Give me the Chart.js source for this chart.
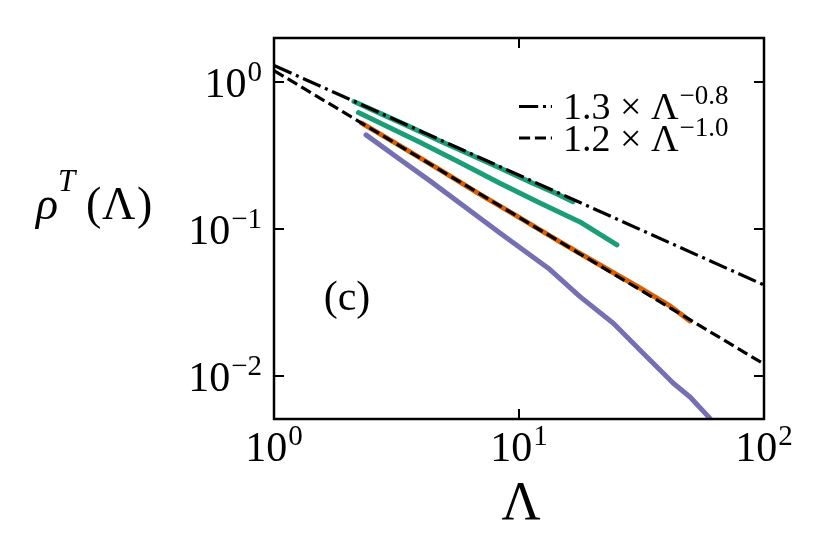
<!DOCTYPE html>
<html><head><meta charset="utf-8">
<script src="https://cdn.jsdelivr.net/npm/chart.js@4/dist/chart.umd.min.js"></script>
<style>html,body{margin:0;padding:0;background:#fff}#wrap{width:830px;height:559px}</style>
</head><body><div id="wrap"><canvas id="c" width="830" height="559"></canvas></div>
<script>
// ---- data ----
const xTickValues = [1, 10, 100];
const xTickExponents = ['0', '1', '2'];
const yTickValues = [0.01, 0.1, 1];
const yTickExponents = ['\u22122', '\u22121', '0'];
const xRange = [1, 100];
const yRange = [0.00507, 2.0];

const fitDashDotX = [1, 100];
const fitDashDotY = [1.3, 0.0415];
const fitDashedX = [1, 100];
const fitDashedY = [1.2, 0.012];

const greenAX = [2.12, 2.71, 3.59, 4.76, 6.31, 8.36, 11.09, 14.03, 16.61];
const greenAY = [0.738, 0.613, 0.496, 0.398, 0.322, 0.260, 0.209, 0.176, 0.1535];
const greenBX = [2.21, 2.71, 3.94, 5.74, 8.36, 12.18, 17.74, 25.1];
const greenBY = [0.621, 0.528, 0.389, 0.284, 0.205, 0.1504, 0.1116, 0.0778];
const orangeX = [2.28, 3.27, 4.76, 6.93, 10.09, 14.70, 21.41, 31.18, 41.33, 49.9];
const orangeY = [0.5255, 0.368, 0.2525, 0.1718, 0.1189, 0.0815, 0.0568, 0.0396, 0.0299, 0.0236];
const purpleX = [2.375, 3.27, 4.33, 6.12, 8.36, 13.17, 17.74, 24.26, 33.2, 42.65, 49.9, 60.2];
const purpleY = [0.4373, 0.2977, 0.2125, 0.1384, 0.0939, 0.054, 0.0346, 0.0228, 0.01348, 0.00888, 0.00716, 0.00512];

const legendLabels = ['1.3 \u00d7 \u039b', '1.2 \u00d7 \u039b'];
const legendExponents = ['\u22120.8', '\u22121.0'];
const panelLabel = '(c)';
const xTitle = '\u039b';

// ---- styles ----
const GREEN = '#1b9e77', ORANGE = '#d95f02', PURPLE = '#7570b3';
const SERIF = '"Liberation Serif", "DejaVu Serif", serif';
const DASHDOT = [19.2, 4.8, 3, 4.8];
const DASHED = [11.1, 4.8];

const zip = (xs, ys) => xs.map((x, i) => ({x, y: ys[i]}));
const curve = (xs, ys, color) => ({
  data: zip(xs, ys), borderColor: color, borderWidth: 5, showLine: true,
  pointRadius: 0, borderCapStyle: 'round', borderJoinStyle: 'round', tension: 0, fill: false
});
const fit = (xs, ys, dash) => ({
  data: zip(xs, ys), borderColor: '#000', borderWidth: 3.2, showLine: true,
  pointRadius: 0, borderDash: dash, borderCapStyle: 'butt', tension: 0, fill: false
});

function drawSup(ctx, base, exp, x, y, baseFont, expFont, raise, align) {
  ctx.font = baseFont; const wb = ctx.measureText(base).width;
  ctx.font = expFont; const we = ctx.measureText(exp).width;
  const total = wb + we + 1;
  let left = x;
  if (align === 'center') left = x - total / 2;
  else if (align === 'right') left = x - total;
  ctx.textAlign = 'left'; ctx.textBaseline = 'alphabetic';
  ctx.font = baseFont; ctx.fillText(base, left, y);
  ctx.font = expFont; ctx.fillText(exp, left + wb + 1, y - raise);
}

const decorations = {
  id: 'decorations',
  afterDatasetsDraw(chart) {
    const {ctx, chartArea: a, scales: {x, y}} = chart;
    ctx.save();
    ctx.fillStyle = '#000'; ctx.strokeStyle = '#000';
    ctx.lineWidth = 2;
    const tl = 10;
    ctx.beginPath();
    xTickValues.forEach(v => {
      const px = Math.round(x.getPixelForValue(v));
      ctx.moveTo(px, a.bottom); ctx.lineTo(px, a.bottom - tl);
      ctx.moveTo(px, a.top); ctx.lineTo(px, a.top + tl);
    });
    yTickValues.forEach(v => {
      const py = Math.round(y.getPixelForValue(v));
      ctx.moveTo(a.left, py); ctx.lineTo(a.left + tl, py);
      ctx.moveTo(a.right, py); ctx.lineTo(a.right - tl, py);
    });
    ctx.stroke();
    ctx.lineWidth = 2.5;
    ctx.strokeRect(a.left, a.top, a.right - a.left, a.bottom - a.top);
    const bf = '42px ' + SERIF, ef = '29px ' + SERIF;
    xTickValues.forEach((v, i) => {
      drawSup(ctx, '10', xTickExponents[i], x.getPixelForValue(v), a.bottom + 42, bf, ef, 16, 'center');
    });
    yTickValues.forEach((v, i) => {
      drawSup(ctx, '10', yTickExponents[i], a.left - 12, y.getPixelForValue(v) + 15, bf, ef, 16, 'right');
    });
    ctx.textAlign = 'center'; ctx.textBaseline = 'alphabetic';
    ctx.font = '54px ' + SERIF;
    ctx.fillText(xTitle, (a.left + a.right) / 2 + 2, 519);
    ctx.textAlign = 'left';
    ctx.font = 'italic 46px ' + SERIF; ctx.fillText('\u03c1', 36, 219);
    ctx.font = 'italic 31px ' + SERIF; ctx.fillText('T', 58, 191);
    ctx.font = '46px ' + SERIF;
    ctx.fillText('(', 86, 219);
    ctx.fillText('\u039b', 102, 219);
    ctx.fillText(')', 137, 219);
    ctx.textAlign = 'center';
    ctx.font = '42px ' + SERIF;
    ctx.fillText(panelLabel, 347, 310);
    const rows = [{dash: DASHDOT, base: 119}, {dash: DASHED, base: 150.5}];
    rows.forEach((r, i) => {
      ctx.save();
      ctx.lineWidth = 3.2; ctx.setLineDash(r.dash); ctx.lineCap = 'butt';
      ctx.beginPath();
      ctx.moveTo(519, r.base - 12.5); ctx.lineTo(552, r.base - 12.5);
      ctx.stroke();
      ctx.restore();
      drawSup(ctx, legendLabels[i], legendExponents[i], 563, r.base, '38px ' + SERIF, '27px ' + SERIF, 15, 'left');
    });
    ctx.restore();
  }
};

function build() {
  new Chart(document.getElementById('c'), {
    type: 'scatter',
    data: {
      datasets: [
        fit(fitDashDotX, fitDashDotY, DASHDOT),
        fit(fitDashedX, fitDashedY, DASHED),
        curve(greenAX, greenAY, GREEN),
        curve(greenBX, greenBY, GREEN),
        curve(orangeX, orangeY, ORANGE),
        curve(purpleX, purpleY, PURPLE)
      ]
    },
    options: {
      responsive: false, animation: false, devicePixelRatio: 1,
      layout: {padding: {left: 274, right: 66, top: 38, bottom: 140}},
      scales: {
        x: {type: 'logarithmic', min: xRange[0], max: xRange[1], display: false},
        y: {type: 'logarithmic', min: yRange[0], max: yRange[1], display: false}
      },
      plugins: {legend: {display: false}, tooltip: {enabled: false}}
    },
    plugins: [decorations]
  });
}
const fontLoads = document.fonts ? Promise.all([
  document.fonts.load('42px "Liberation Serif"'),
  document.fonts.load('italic 42px "Liberation Serif"')
]).catch(() => {}) : Promise.resolve();
fontLoads.then(build, build);
</script>
</body></html>
